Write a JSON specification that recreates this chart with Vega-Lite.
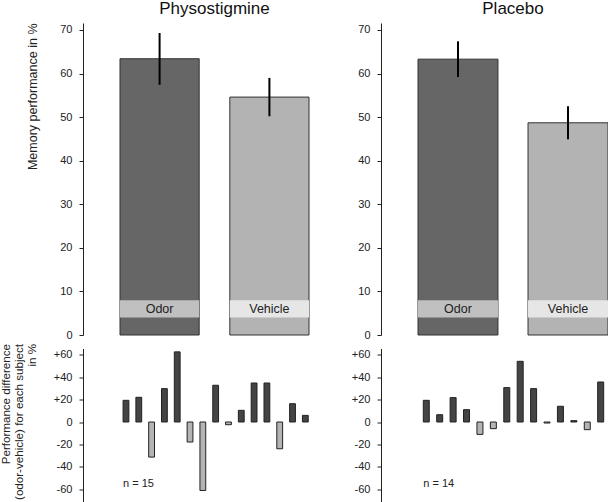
{
  "$schema": "https://vega.github.io/schema/vega-lite/v6.json",
  "padding": 0,
  "bounds": "flush",
  "columns": 2,
  "spacing": {"row": 13.5, "column": 109},
  "config": {
    "view": {"stroke": null},
    "font": "Liberation Sans",
    "axis": {
      "grid": false,
      "domainColor": "#222222",
      "tickColor": "#222222",
      "labelColor": "#222222",
      "titleColor": "#222222",
      "labelFontSize": 11,
      "titleFontSize": 12.5,
      "titleFontWeight": "normal",
      "tickSize": 4,
      "labelPadding": 7,
      "labelOverlap": false,
      "offset": 37,
      "titleAnchor": "end"
    },
    "title": {"fontSize": 17, "fontWeight": "normal", "color": "#111111", "offset": 5}
  },
  "datasets": {
    "means": [
      {"group": "Physostigmine", "condition": "Odor", "mean": 63.4, "lo": 57.4, "hi": 69.3},
      {"group": "Physostigmine", "condition": "Vehicle", "mean": 54.6, "lo": 50.2, "hi": 59.0},
      {"group": "Placebo", "condition": "Odor", "mean": 63.3, "lo": 59.2, "hi": 67.4},
      {"group": "Placebo", "condition": "Vehicle", "mean": 48.7, "lo": 44.9, "hi": 52.5}
    ],
    "diffs": [
      {"group": "Physostigmine", "subject": 1, "diff": 19.3},
      {"group": "Physostigmine", "subject": 2, "diff": 22.0},
      {"group": "Physostigmine", "subject": 3, "diff": -31.2},
      {"group": "Physostigmine", "subject": 4, "diff": 29.7},
      {"group": "Physostigmine", "subject": 5, "diff": 62.4},
      {"group": "Physostigmine", "subject": 6, "diff": -17.8},
      {"group": "Physostigmine", "subject": 7, "diff": -60.9},
      {"group": "Physostigmine", "subject": 8, "diff": 32.7},
      {"group": "Physostigmine", "subject": 9, "diff": -2.4},
      {"group": "Physostigmine", "subject": 10, "diff": 10.4},
      {"group": "Physostigmine", "subject": 11, "diff": 34.7},
      {"group": "Physostigmine", "subject": 12, "diff": 34.7},
      {"group": "Physostigmine", "subject": 13, "diff": -23.8},
      {"group": "Physostigmine", "subject": 14, "diff": 16.3},
      {"group": "Physostigmine", "subject": 15, "diff": 5.9},
      {"group": "Placebo", "subject": 1, "diff": 19.3},
      {"group": "Placebo", "subject": 2, "diff": 6.5},
      {"group": "Placebo", "subject": 3, "diff": 21.7},
      {"group": "Placebo", "subject": 4, "diff": 11.0},
      {"group": "Placebo", "subject": 5, "diff": -11.0},
      {"group": "Placebo", "subject": 6, "diff": -5.9},
      {"group": "Placebo", "subject": 7, "diff": 30.6},
      {"group": "Placebo", "subject": 8, "diff": 54.0},
      {"group": "Placebo", "subject": 9, "diff": 29.7},
      {"group": "Placebo", "subject": 10, "diff": -0.9},
      {"group": "Placebo", "subject": 11, "diff": 14.0},
      {"group": "Placebo", "subject": 12, "diff": 1.2},
      {"group": "Placebo", "subject": 13, "diff": -6.8},
      {"group": "Placebo", "subject": 14, "diff": 35.6}
    ],
    "notes": [
      {"group": "Physostigmine", "subject": 1, "label": "n = 15"},
      {"group": "Placebo", "subject": 1, "label": "n = 14"}
    ]
  },
  "concat": [
    {
      "width": 189, "height": 312,
      "title": {"text": "Physostigmine"},
      "data": {"name": "means"},
      "transform": [{"filter": "datum.group === 'Physostigmine'"}],
      "encoding": {"x": {"field": "condition", "type": "nominal", "axis": null, "scale": {"paddingInner": 0.279, "paddingOuter": 0}}},
      "layer": [
        {"mark": {"type": "bar", "stroke": "#333333", "strokeWidth": 1},
         "encoding": {
           "y": {"field": "mean", "type": "quantitative", "scale": {"domain": [0, 71.6], "nice": false},
                 "axis": {"values": [0, 10, 20, 30, 40, 50, 60, 70], "tickCount": 8, "labelOverlap": false, "title": "Memory performance in %", "titlePadding": 20}},
           "fill": {"condition": {"test": "datum.condition === 'Odor'", "value": "#666666"}, "value": "#b3b3b3"}}},
        {"mark": {"type": "bar"},
         "encoding": {"y": {"datum": 4}, "y2": {"datum": 8},
           "fill": {"condition": {"test": "datum.condition === 'Odor'", "value": "#c0c0c0"}, "value": "#e6e6e6"}}},
        {"mark": {"type": "text", "fontSize": 12.5, "color": "#222222"},
         "encoding": {"y": {"datum": 6}, "text": {"field": "condition"}}},
        {"mark": {"type": "rule", "strokeWidth": 2, "color": "#000000"},
         "encoding": {"y": {"field": "lo", "type": "quantitative"}, "y2": {"field": "hi"}}}
      ]
    },
    {
      "width": 190, "height": 312,
      "title": {"text": "Placebo"},
      "data": {"name": "means"},
      "transform": [{"filter": "datum.group === 'Placebo'"}],
      "encoding": {"x": {"field": "condition", "type": "nominal", "axis": null, "scale": {"paddingInner": 0.273, "paddingOuter": 0}}},
      "layer": [
        {"mark": {"type": "bar", "stroke": "#333333", "strokeWidth": 1},
         "encoding": {
           "y": {"field": "mean", "type": "quantitative", "scale": {"domain": [0, 71.6], "nice": false},
                 "axis": {"values": [0, 10, 20, 30, 40, 50, 60, 70], "tickCount": 8, "labelOverlap": false, "title": null}},
           "fill": {"condition": {"test": "datum.condition === 'Odor'", "value": "#666666"}, "value": "#b3b3b3"}}},
        {"mark": {"type": "bar"},
         "encoding": {"y": {"datum": 4}, "y2": {"datum": 8},
           "fill": {"condition": {"test": "datum.condition === 'Odor'", "value": "#c0c0c0"}, "value": "#e6e6e6"}}},
        {"mark": {"type": "text", "fontSize": 12.5, "color": "#222222"},
         "encoding": {"y": {"datum": 6}, "text": {"field": "condition"}}},
        {"mark": {"type": "rule", "strokeWidth": 2, "color": "#000000"},
         "encoding": {"y": {"field": "lo", "type": "quantitative"}, "y2": {"field": "hi"}}}
      ]
    },
    {
      "width": 189, "height": 154,
      "layer": [
        {"data": {"name": "diffs"},
         "transform": [{"filter": "datum.group === 'Physostigmine'"}],
         "mark": {"type": "bar", "stroke": "#222222", "strokeWidth": 1},
         "encoding": {
           "x": {"field": "subject", "type": "ordinal", "axis": null, "scale": {"paddingInner": 0.547, "paddingOuter": 0.15, "align": 0.8}},
           "y": {"field": "diff", "type": "quantitative", "scale": {"domain": [-71.6, 65.4], "nice": false},
                 "axis": {"values": [-60, -40, -20, 0, 20, 40, 60], "tickCount": 7, "labelOverlap": false, "labelExpr": "datum.value > 0 ? '+' + datum.value : '' + datum.value",
                          "title": ["Performance difference", "(odor-vehicle) for each subject", "in %"], "titlePadding": 16, "titleFontSize": 11.6, "titleLineHeight": 13, "titleY": -5, "titleAlign": "right"}},
           "fill": {"condition": {"test": "datum.diff >= 0", "value": "#444444"}, "value": "#b4b4b4"}}},
        {"data": {"name": "notes"},
         "transform": [{"filter": "datum.group === 'Physostigmine'"}],
         "mark": {"type": "text", "align": "left", "fontSize": 11, "color": "#222222"},
         "encoding": {
           "x": {"field": "subject", "type": "ordinal", "bandPosition": 0},
           "y": {"datum": -55},
           "text": {"field": "label"}}}
      ]
    },
    {
      "width": 190, "height": 154,
      "layer": [
        {"data": {"name": "diffs"},
         "transform": [{"filter": "datum.group === 'Placebo'"}],
         "mark": {"type": "bar", "stroke": "#222222", "strokeWidth": 1},
         "encoding": {
           "x": {"field": "subject", "type": "ordinal", "axis": null, "scale": {"paddingInner": 0.553, "paddingOuter": 0.358, "align": 0.55}},
           "y": {"field": "diff", "type": "quantitative", "scale": {"domain": [-71.6, 65.4], "nice": false},
                 "axis": {"values": [-60, -40, -20, 0, 20, 40, 60], "tickCount": 7, "labelOverlap": false, "labelExpr": "datum.value > 0 ? '+' + datum.value : '' + datum.value", "title": null}},
           "fill": {"condition": {"test": "datum.diff >= 0", "value": "#444444"}, "value": "#b4b4b4"}}},
        {"data": {"name": "notes"},
         "transform": [{"filter": "datum.group === 'Placebo'"}],
         "mark": {"type": "text", "align": "left", "fontSize": 11, "color": "#222222"},
         "encoding": {
           "x": {"field": "subject", "type": "ordinal", "bandPosition": 0},
           "y": {"datum": -55},
           "text": {"field": "label"}}}
      ]
    }
  ]
}
